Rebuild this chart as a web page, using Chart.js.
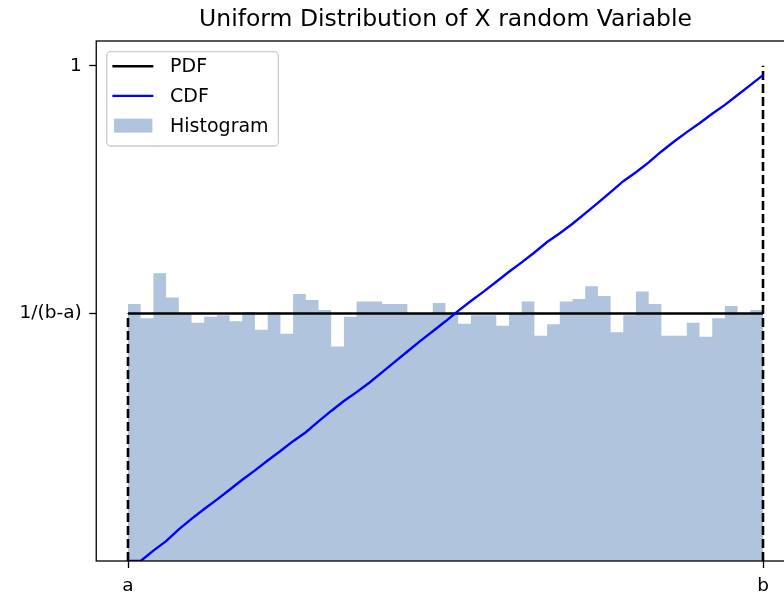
<!DOCTYPE html>
<html>
<head>
<meta charset="utf-8">
<title>Uniform Distribution of X random Variable</title>
<script src="https://cdn.jsdelivr.net/npm/chart.js@4.4.1/dist/chart.umd.min.js"></script>
<style>
  html, body { margin: 0; padding: 0; background: #fff; overflow: hidden; }
  canvas { display: block; }
</style>
</head>
<body>
<canvas id="uniformChart" width="892" height="593"></canvas>
<script>
// x runs in bin units: a is the first bin edge, b the last one
const boundA = 0;
const boundB = 50;
const pdfLevel = 0.5;   // 1/(b-a) on the density axis
const cdfTop = 1;

// histogram densities, one per bin from a to b
const histValues = [
  0.519, 0.490, 0.581, 0.532, 0.501, 0.481, 0.493, 0.496, 0.484, 0.503,
  0.467, 0.503, 0.459, 0.539, 0.527, 0.507, 0.433, 0.493, 0.524, 0.524,
  0.519, 0.519, 0.501, 0.501, 0.521, 0.501, 0.479, 0.496, 0.496, 0.475,
  0.501, 0.524, 0.455, 0.478, 0.524, 0.529, 0.555, 0.535, 0.462, 0.496,
  0.544, 0.519, 0.455, 0.455, 0.481, 0.453, 0.490, 0.515, 0.501, 0.507
];

// CDF read at each bin edge
const cdfValues = [
  0, 0, 0.021, 0.040, 0.064, 0.085, 0.105, 0.124, 0.144, 0.164,
  0.183, 0.203, 0.222, 0.242, 0.260, 0.282, 0.303, 0.323, 0.341, 0.360,
  0.381, 0.402, 0.423, 0.444, 0.464, 0.484, 0.505, 0.525, 0.544, 0.564,
  0.584, 0.603, 0.623, 0.644, 0.662, 0.681, 0.702, 0.723, 0.745, 0.767,
  0.785, 0.805, 0.827, 0.847, 0.866, 0.884, 0.903, 0.921, 0.941, 0.961,
  0.981
];

const xTickValues = [boundA, boundB];
const xTickLabels = ['a', 'b'];
const yTickValues = [pdfLevel, cdfTop];
const yTickLabels = ['1/(b-a)', '1'];

const chartTitle = 'Uniform Distribution of X random Variable';
const FONT = 'DejaVu Sans';

// histogram as a filled step outline, last bin held out to b
const histPoints = histValues.map((v, i) => ({ x: boundA + i, y: v }));
histPoints.push({ x: boundB, y: histValues[histValues.length - 1] });

const cdfPoints = cdfValues.map((v, i) => ({ x: boundA + i, y: v }));

// title centred over the axes (not the whole canvas), like matplotlib
const axesTitlePlugin = {
  id: 'axesTitle',
  afterDraw(chart) {
    const { ctx, chartArea: a } = chart;
    ctx.save();
    ctx.font = '23.5px "' + FONT + '"';
    ctx.fillStyle = '#000';
    ctx.textAlign = 'center';
    ctx.textBaseline = 'middle';
    ctx.fillText(chartTitle, (a.left + a.right) / 2, a.top - 21.5);
    ctx.restore();
  }
};

// matplotlib-like frame around the plot area
const framePlugin = {
  id: 'frame',
  afterDatasetsDraw(chart) {
    const { ctx, chartArea: a } = chart;
    ctx.save();
    ctx.strokeStyle = '#000';
    ctx.lineWidth = 1.3;
    ctx.strokeRect(a.left, a.top, a.right - a.left, a.bottom - a.top);
    ctx.restore();
  }
};

// legend box in the upper left corner of the axes
const legendBoxPlugin = {
  id: 'legendBox',
  afterDraw(chart) {
    const { ctx, chartArea: a } = chart;
    const entries = chart.data.datasets.filter(d => d.legendKind);
    const left = a.left + 10.5;
    const top = a.top + 10.7;
    const w = 171.6, h = 94.3, r = 4;
    ctx.save();
    ctx.beginPath();
    ctx.roundRect(left, top, w, h, r);
    ctx.fillStyle = 'rgba(255,255,255,0.8)';
    ctx.fill();
    ctx.strokeStyle = '#cccccc';
    ctx.lineWidth = 1.3;
    ctx.stroke();
    ctx.font = '19px "' + FONT + '"';
    ctx.textBaseline = 'middle';
    ctx.textAlign = 'left';
    entries.forEach((d, i) => {
      const cy = top + 14.5 + i * 29.7;
      if (d.legendKind === 'line') {
        ctx.beginPath();
        ctx.moveTo(left + 5.6, cy);
        ctx.lineTo(left + 46.6, cy);
        ctx.strokeStyle = d.borderColor;
        ctx.lineWidth = d.borderWidth;
        ctx.stroke();
      } else {
        ctx.fillStyle = d.backgroundColor;
        ctx.fillRect(left + 7.3, cy - 7, 38.3, 14);
      }
      ctx.fillStyle = '#000';
      ctx.fillText(d.label, left + 63.3, cy + 1);
    });
    ctx.restore();
  }
};

const ctx = document.getElementById('uniformChart').getContext('2d');
new Chart(ctx, {
  type: 'line',
  data: {
    datasets: [
      {
        label: 'PDF',
        legendKind: 'line',
        data: [{ x: boundA, y: pdfLevel }, { x: boundB, y: pdfLevel }],
        borderColor: '#000000',
        borderWidth: 2.5,
        pointRadius: 0,
        order: 1
      },
      {
        label: 'CDF',
        legendKind: 'line',
        data: cdfPoints,
        borderColor: '#0000ff',
        borderWidth: 2.4,
        pointRadius: 0,
        order: 0
      },
      {
        label: 'Histogram',
        legendKind: 'patch',
        data: histPoints,
        stepped: 'before',
        fill: 'origin',
        backgroundColor: '#b0c4de',
        borderColor: 'transparent',
        borderWidth: 0,
        pointRadius: 0,
        order: 3
      },
      {
        label: '',
        data: [{ x: boundA, y: 0 }, { x: boundA, y: pdfLevel }],
        borderColor: '#000000',
        borderWidth: 2.6,
        borderDash: [9, 4],
        pointRadius: 0,
        order: 2
      },
      {
        label: '',
        data: [{ x: boundB, y: 0 }, { x: boundB, y: cdfTop }],
        borderColor: '#000000',
        borderWidth: 2.6,
        borderDash: [9, 4],
        pointRadius: 0,
        order: 2
      }
    ]
  },
  options: {
    responsive: false,
    animation: false,
    layout: { padding: { left: 0, right: 97.25, top: 41, bottom: 0 } },
    plugins: {
      legend: { display: false },
      tooltip: { enabled: false },
      title: { display: false }
    },
    scales: {
      x: {
        type: 'linear',
        min: -2.5,
        max: 52.5,
        afterFit: (scale) => { scale.height = 32; },
        afterBuildTicks: (scale) => { scale.ticks = xTickValues.map(v => ({ value: v })); },
        border: { display: false },
        grid: { drawOnChartArea: false, drawTicks: true, tickLength: 7, tickColor: '#000', tickWidth: 1.3 },
        ticks: {
          autoSkip: false,
          maxRotation: 0,
          padding: 7.5,
          color: '#000',
          font: { family: FONT, size: 18.5 },
          callback: (value) => xTickLabels[xTickValues.indexOf(value)]
        }
      },
      y: {
        min: 0,
        max: 1.05,
        afterFit: (scale) => { scale.width = 96.25; },
        afterBuildTicks: (scale) => { scale.ticks = yTickValues.map(v => ({ value: v })); },
        border: { display: false },
        grid: { drawOnChartArea: false, drawTicks: true, tickLength: 7, tickColor: '#000', tickWidth: 1.3 },
        ticks: {
          autoSkip: false,
          padding: 7.5,
          color: '#000',
          font: { family: FONT, size: 18.5 },
          callback: (value) => yTickLabels[yTickValues.indexOf(value)]
        }
      }
    }
  },
  plugins: [framePlugin, legendBoxPlugin, axesTitlePlugin]
});
</script>
</body>
</html>
